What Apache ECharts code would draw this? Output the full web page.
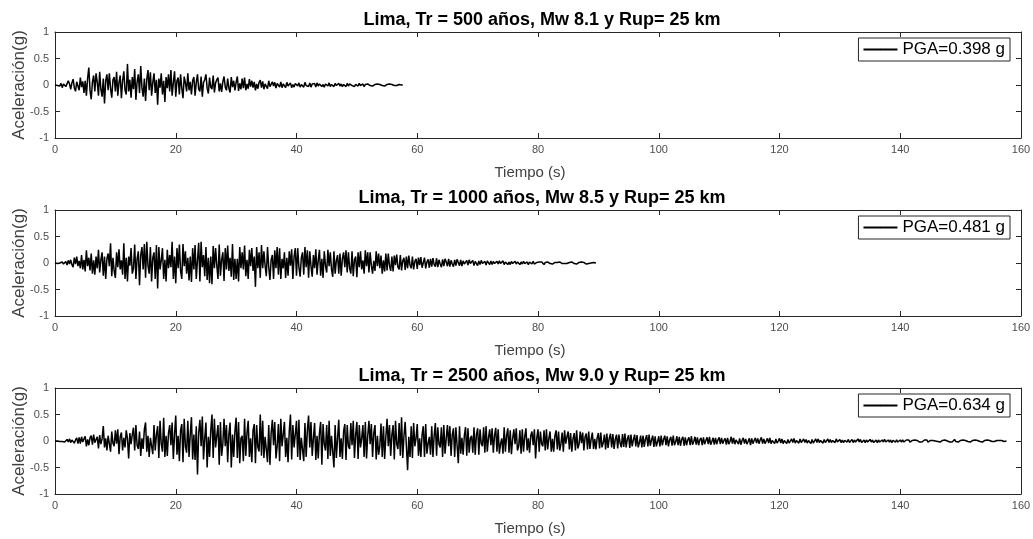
<!DOCTYPE html>
<html>
<head>
<meta charset="utf-8">
<title>Acelerogramas sintéticos - Lima</title>
<script src="https://cdn.jsdelivr.net/npm/echarts@6/dist/echarts.min.js"></script>
<style>
    html, body { margin: 0; padding: 0; background: #fff; }
    #chart { width: 1033px; height: 539px; }
</style>
</head>
<body>
<div id="chart"></div>
<script>
// paso de tiempo de los registros (s)
var dt = 0.2;

var titulos = [
    'Lima, Tr = 500 años, Mw 8.1 y Rup= 25 km',
    'Lima, Tr = 1000 años, Mw 8.5 y Rup= 25 km',
    'Lima, Tr = 2500 años, Mw 9.0 y Rup= 25 km'
];
var leyendas = ['PGA=0.398 g', 'PGA=0.481 g', 'PGA=0.634 g'];
var xTicks = [0, 160, 20];      // min, max, intervalo
var yTicks = [-1, 1, 0.5];

// aceleración (g), una fila = 1 s
var acc500 = [
    0, 0.01, -0.01, 0.01, -0.02,
    0.03, -0.05, 0.02, 0.05, -0.03,
    -0.06, 0.08, 0.02, -0.08, 0.04,
    0.11, -0.05, -0.12, 0.06, 0.03,
    -0.1, 0.14, -0.04, 0.07, -0.15,
    0.08, -0.2, 0.12, 0.33, -0.1,
    -0.27, 0.06, 0.18, -0.12, 0.22,
    0.05, -0.2, 0.25, -0.08, -0.22,
    0.12, -0.35, 0.08, 0.2, -0.1,
    0.22, -0.06, -0.24, 0.1, 0.15,
    -0.12, 0.25, -0.2, 0.05, 0.18,      // 10 s
    -0.25, 0.08, 0.26, -0.1, -0.18,
    0.398, -0.12, 0.1, -0.24, 0.15,
    -0.08, 0.3, -0.28, 0.06, 0.2,
    -0.15, 0.36, -0.05, -0.22, 0.12,
    -0.3, 0.1, 0.28, -0.1, 0.24,
    -0.2, 0.05, 0.22, -0.15, 0.1,
    -0.37, 0.12, -0.05, 0.22, -0.18,
    0.08, -0.32, 0.15, -0.06, 0.2,
    -0.12, 0.28, -0.2, 0.04, 0.26,
    -0.22, 0.08, 0.14, -0.18, 0.2,      // 20 s
    -0.06, -0.25, 0.16, 0.04, -0.12,
    0.22, -0.1, 0.06, -0.18, 0.08,
    0.15, -0.2, 0.05, 0.2, -0.08,
    -0.12, 0.16, -0.22, 0.05, 0.1,
    0.2, -0.06, -0.16, 0.14, -0.04,
    -0.08, 0.18, -0.14, 0.04, 0.1,
    0.14, -0.12, 0.03, -0.13, 0.06,
    0.16, -0.04, -0.1, 0.12, -0.06,
    -0.14, 0.15, -0.04, 0.08, -0.1,
    0.05, 0.16, -0.11, 0.03, -0.08,     // 30 s
    0.12, -0.06, 0.14, -0.1, 0.02,
    -0.07, 0.11, -0.03, 0.08, -0.05,
    0.06, -0.1, 0.02, -0.07, 0.05,
    0.09, -0.05, 0.07, -0.08, 0.02,
    0.04, -0.07, 0.08, -0.03, -0.05,
    0.06, -0.02, 0.05, -0.06, 0.03,
    0.05, -0.04, 0.06, -0.05, 0.02,
    0.03, -0.05, 0.05, -0.02, 0.01,
    0.04, -0.05, 0.01, -0.04, 0.03,
    0.05, -0.02, 0.04, -0.04, 0.01,     // 40 s
    0.03, -0.04, 0.05, -0.01, -0.03,
    -0.03, 0.04, -0.04, 0.02, 0.01,
    0.03, -0.04, 0.04, -0.02, 0.02,
    0.04, -0.03, 0.01, -0.04, 0.02,
    0.03, -0.02, 0.04, -0.03, 0.01,
    0.02, -0.03, 0.03, -0.01, -0.02,
    0.03, -0.02, 0.02, -0.03, 0.01,
    0.02, -0.03, 0.03, -0.02, 0.02,
    0.03, -0.01, 0.02, -0.03, 0.01,
    0.02, -0.02, 0.03, -0.01, -0.02,    // 50 s
    0.02, -0.03, 0.01, -0.02, 0.02,
    0.03, -0.01, 0.02, -0.02, 0.01,
    0.01, -0.02, 0.02, -0.01, 0.01,
    0.02, -0.01, 0.01, -0.02, 0.01,
    0.01, -0.02, 0.02, -0.01, 0.01,
    0.02, -0.01, 0.01, -0.01, 0.01,
    0.01, -0.01, 0, 0
];

var acc1000 = [
    0, 0.01, -0.01, 0.01, 0,
    -0.01, 0.02, -0.02, 0.01, 0.03,
    -0.04, 0.05, -0.02, 0.06, -0.03,
    -0.08, 0.1, -0.02, 0.12, -0.06,
    0.04, -0.1, 0.15, -0.12, 0.06,
    -0.16, 0.24, -0.06, 0.1, -0.14,
    0.18, -0.2, 0.05, -0.22, 0.12,
    -0.1, 0.25, -0.18, 0.06, 0.2,
    -0.24, 0.12, -0.3, 0.08, 0.18,
    -0.06, 0.37, -0.25, 0.1, -0.15,
    -0.28, 0.2, -0.08, 0.26, -0.12,     // 10 s
    0.05, -0.22, 0.37, -0.3, 0.1,
    -0.35, 0.12, -0.05, 0.28, -0.2,
    -0.1, 0.35, -0.3, 0.08, 0.22,
    -0.42, 0.15, 0.3, -0.12, 0.36,
    -0.28, 0.4, -0.05, -0.2, 0.3,
    -0.35, 0.1, 0.2, -0.3, 0.34,
    -0.481, 0.3, -0.12, 0.05, 0.28,
    -0.3, 0.06, -0.35, 0.25, -0.1,
    0.15, -0.08, 0.4, -0.3, 0.12,
    -0.38, 0.28, -0.1, 0.35, -0.15,     // 20 s
    -0.3, 0.36, -0.06, 0.22, -0.2,
    0.1, -0.33, 0.12, -0.36, 0.28,
    -0.12, 0.34, -0.3, 0.05, 0.38,
    -0.35, 0.4, -0.08, 0.15, -0.25,
    0.3, -0.32, 0.1, -0.38, 0.12,
    -0.4, 0.32, -0.1, 0.28, -0.05,
    -0.3, 0.35, -0.24, 0.06, 0.2,
    -0.34, 0.28, -0.12, 0.33, -0.15,
    0.1, -0.26, 0.36, -0.32, 0.08,
    -0.3, 0.08, -0.35, 0.3, -0.1,       // 30 s
    0.2, -0.12, 0.33, -0.25, 0.06,
    -0.3, 0.25, -0.06, 0.28, -0.15,
    0.12, -0.45, 0.3, -0.1, 0.2,
    -0.28, 0.34, -0.1, 0.22, -0.05,
    -0.25, 0.3, -0.08, -0.32, 0.06,
    0.15, -0.3, 0.24, -0.1, 0.3,
    -0.22, 0.28, -0.3, 0.08, -0.1,
    0.2, -0.28, 0.1, -0.24, 0.22,
    -0.05, 0.26, -0.3, 0.12, 0.28,
    -0.24, 0.28, -0.08, -0.26, 0.1,     // 40 s
    0.2, -0.22, 0.3, -0.08, 0.24,
    -0.28, 0.22, -0.06, -0.26, 0.15,
    -0.1, 0.26, -0.22, 0.05, 0.25,
    -0.24, 0.08, -0.28, 0.22, -0.05,
    -0.18, 0.25, -0.06, 0.2, -0.12,
    -0.26, 0.22, -0.2, 0.05, 0.15,
    -0.2, 0.18, -0.24, 0.08, 0.2,
    -0.08, 0.24, -0.18, 0.2, -0.1,
    -0.2, 0.22, -0.25, 0.06, 0.12,
    -0.27, 0.2, -0.08, 0.22, -0.12,     // 50 s
    0.05, -0.2, 0.24, -0.06, 0.2,
    -0.18, 0.2, -0.05, -0.2, 0.04,
    -0.15, 0.22, -0.06, 0.18, -0.1,
    0.14, -0.2, 0.05, -0.16, 0.18,
    -0.14, 0.18, -0.05, -0.15, 0.12,
    -0.16, 0.14, -0.04, 0.16, -0.08,
    -0.12, 0.15, -0.14, 0.04, 0.1,
    -0.13, 0.12, -0.1, 0.14, -0.04,
    -0.1, 0.12, -0.12, 0.03, 0.08,
    -0.11, 0.1, -0.04, 0.11, -0.09,     // 60 s
    -0.08, 0.1, -0.1, 0.02, 0.07,
    -0.09, 0.08, -0.07, 0.09, -0.03,
    -0.07, 0.09, -0.08, 0.06, -0.02,
    -0.08, 0.07, -0.06, 0.08, 0.02,
    -0.06, 0.08, -0.07, 0.05, -0.02,
    -0.07, 0.06, -0.05, 0.07, 0.01,
    -0.05, 0.06, -0.06, 0.04, -0.02,
    -0.05, 0.05, -0.04, 0.06, -0.01,
    -0.04, 0.05, -0.05, 0.03, 0.01,
    -0.05, 0.04, -0.03, 0.05, -0.01,    // 70 s
    -0.04, 0.03, -0.04, 0.04, 0.01,
    -0.03, 0.04, -0.03, 0.03, -0.01,
    -0.04, 0.03, -0.02, 0.04, -0.01,
    -0.03, 0.04, -0.03, 0.02, 0.01,
    -0.03, 0.02, -0.03, 0.03, -0.01,
    -0.02, 0.03, -0.02, 0.02, 0.01,
    -0.03, 0.02, -0.02, 0.03, -0.01,
    -0.02, 0.02, -0.03, 0.02, 0,
    -0.02, 0.03, -0.02, 0.01, 0.01,
    -0.02, 0.02, -0.01, 0.02, -0.01,    // 80 s
    -0.03, 0.01, -0.02, 0.02, 0,
    -0.01, 0.02, -0.02, 0.01, 0.01,
    -0.02, 0.01, -0.02, 0.02, 0,
    -0.01, 0.02, -0.01, 0.01, -0.01,
    -0.02, 0.01, -0.01, 0.02, 0,
    -0.01, 0.01, -0.02, 0.01, 0.01,
    -0.01, 0.02, -0.01, 0.01, 0,
    -0.02, 0.01, -0.01, 0.01, 0,
    -0.01, 0.01, 0, 0
];

var acc2500 = [
    0, 0, 0, 0.01, -0.01,
    0.01, -0.01, 0.02, -0.02, 0.01,
    0.03, -0.02, 0.04, -0.03, 0.02,
    0.05, -0.04, 0.02, 0.06, -0.05,
    0.07, -0.05, 0.08, -0.02, 0.04,
    0.09, -0.1, 0.03, -0.08, 0.06,
    0.1, -0.07, 0.12, -0.03, -0.06,
    0.08, -0.14, 0.11, -0.06, 0.04,
    0.28, -0.12, 0.05, -0.18, 0.1,
    0.12, -0.2, 0.18, -0.04, -0.1,
    0.2, -0.05, 0.22, -0.25, 0.08,      // 10 s
    0.16, -0.18, 0.06, -0.12, 0.2,
    0.05, -0.33, 0.15, -0.06, 0.12,
    0.25, -0.18, 0.3, -0.08, -0.15,
    0.18, -0.28, 0.05, -0.15, 0.22,
    0.35, -0.2, 0.1, -0.3, 0.06,
    0.08, -0.25, 0.3, -0.18, 0.12,
    0.28, -0.32, 0.38, -0.06, -0.2,
    0.44, -0.3, 0.1, -0.28, 0.15,
    0.3, -0.08, 0.35, -0.34, 0.12,
    0.48, -0.26, 0.1, -0.38, 0.2,       // 20 s
    0.32, -0.4, 0.42, -0.1, -0.22,
    0.38, -0.3, 0.12, 0.45, -0.35,
    0.12, -0.36, 0.28, -0.634, 0.15,
    0.4, -0.1, 0.46, -0.35, 0.05,
    0.35, -0.5, 0.08, -0.3, 0.2,
    0.5, -0.32, 0.42, -0.12, 0.1,
    0.3, -0.45, 0.36, -0.28, -0.05,
    0.42, -0.1, 0.3, -0.4, 0.12,
    0.35, -0.5, 0.12, -0.3, 0.18,
    0.44, -0.32, 0.36, -0.42, 0.05,     // 30 s
    0.1, -0.38, 0.42, -0.28, 0.15,
    0.38, -0.3, 0.05, -0.4, 0.2,
    0.32, -0.42, 0.3, -0.12, -0.2,
    0.5, -0.28, 0.38, -0.32, 0.08,
    0.1, -0.4, 0.3, -0.45, 0.15,
    0.4, -0.08, 0.36, -0.33, -0.1,
    0.32, -0.38, 0.42, -0.1, 0.12,
    0.36, -0.3, 0.06, -0.4, 0.18,
    0.5, -0.35, 0.3, -0.12, -0.15,
    0.38, -0.3, 0.4, -0.36, 0.06,       // 40 s
    0.08, -0.38, 0.34, -0.3, 0.2,
    0.48, -0.12, 0.36, -0.28, 0.05,
    0.34, -0.36, 0.1, -0.33, 0.15,
    0.36, -0.45, 0.32, -0.06, -0.18,
    0.3, -0.34, 0.38, -0.28, 0.1,
    0.12, -0.5, 0.3, -0.32, 0.05,
    0.4, -0.3, 0.05, -0.34, 0.18,
    0.32, -0.36, 0.3, -0.1, -0.15,
    0.34, -0.08, 0.38, -0.32, 0.12,
    0.36, -0.34, 0.3, -0.12, 0.05,      // 50 s
    0.3, -0.3, 0.36, -0.33, 0.1,
    0.38, -0.06, 0.32, -0.3, 0.15,
    0.3, -0.35, 0.1, -0.26, -0.1,
    0.33, -0.3, 0.28, -0.34, 0.08,
    0.42, -0.1, 0.3, -0.28, 0.12,
    0.3, -0.35, 0.38, -0.06, -0.15,
    0.34, -0.28, 0.45, -0.32, 0.1,
    0.36, -0.1, -0.55, 0.08, -0.3,
    0.28, -0.32, 0.34, -0.1, 0.05,
    0.32, -0.28, 0.05, -0.3, 0.12,      // 60 s
    0.28, -0.3, 0.32, -0.24, -0.05,
    0.08, -0.26, 0.28, -0.3, 0.1,
    0.34, -0.28, 0.26, -0.06, -0.12,
    0.26, -0.3, 0.3, -0.24, 0.05,
    0.3, -0.1, 0.28, -0.28, 0.12,
    0.24, -0.3, 0.26, -0.08, -0.42,
    0.28, -0.24, 0.06, -0.26, 0.1,
    0.26, -0.28, 0.24, -0.22, 0.05,
    0.1, -0.22, 0.26, -0.26, 0.12,
    0.24, -0.26, 0.22, -0.05, -0.1,     // 70 s
    0.26, -0.22, 0.28, -0.2, 0.06,
    0.22, -0.08, 0.24, -0.22, 0.1,
    0.25, -0.2, 0.22, -0.24, -0.05,
    0.05, -0.24, 0.26, -0.2, 0.1,
    0.24, -0.22, 0.2, -0.25, 0.04,
    0.22, -0.06, 0.24, -0.18, -0.1,
    0.2, -0.24, 0.22, -0.2, 0.08,
    0.24, -0.18, 0.05, -0.22, 0.1,
    0.18, -0.08, 0.22, -0.33, 0.06,
    0.22, -0.2, 0.18, -0.06, -0.1,      // 80 s
    0.2, -0.18, 0.22, -0.16, 0.05,
    0.18, -0.2, 0.04, -0.2, 0.1,
    0.2, -0.16, 0.18, -0.18, -0.05,
    0.16, -0.2, 0.2, -0.05, 0.08,
    0.18, -0.16, 0.15, -0.2, 0.04,
    0.15, -0.18, 0.2, -0.14, -0.06,
    0.18, -0.04, 0.16, -0.18, 0.08,
    0.14, -0.16, 0.18, -0.15, 0.03,
    0.16, -0.15, 0.04, -0.16, 0.06,
    0.15, -0.14, 0.16, -0.12, -0.04,    // 90 s
    0.12, -0.16, 0.14, -0.13, 0.05,
    0.14, -0.12, 0.13, -0.15, 0.03,
    0.12, -0.14, 0.12, -0.04, -0.12,
    0.13, -0.11, 0.14, -0.12, 0.04,
    0.11, -0.13, 0.12, -0.1, 0.02,
    0.12, -0.1, 0.11, -0.12, -0.03,
    0.1, -0.12, 0.1, -0.11, 0.04,
    0.11, -0.1, 0.12, -0.09, 0.02,
    0.1, -0.11, 0.09, -0.1, -0.02,
    0.09, -0.1, 0.1, -0.08, 0.03,       // 100 s
    0.1, -0.08, 0.09, -0.1, 0.02,
    0.08, -0.09, 0.1, -0.08, -0.02,
    0.09, -0.08, 0.08, -0.09, 0.03,
    0.08, -0.09, 0.07, -0.08, 0.02,
    0.07, -0.08, 0.09, -0.07, -0.01,
    0.08, -0.07, 0.07, -0.08, 0.02,
    0.06, -0.08, 0.07, -0.06, 0.01,
    0.07, -0.06, 0.08, -0.07, -0.01,
    0.06, -0.07, 0.06, -0.06, 0.02,
    0.07, -0.06, 0.06, -0.05, 0.01,     // 110 s
    0.05, -0.07, 0.06, -0.06, -0.01,
    0.08, -0.05, 0.06, -0.06, 0.02,
    0.05, -0.06, 0.05, -0.07, 0.01,
    0.06, -0.05, 0.04, -0.06, -0.01,
    0.05, -0.08, 0.05, -0.05, 0.01,
    0.06, -0.04, 0.05, -0.05, 0.02,
    0.07, -0.05, 0.04, -0.05, 0,
    0.05, -0.04, 0.06, -0.05, 0.01,
    0.04, -0.05, 0.04, -0.04, 0,
    0.05, -0.04, 0.04, -0.05, 0.01,     // 120 s
    0.04, -0.05, 0.03, -0.04, 0,
    0.04, -0.03, 0.05, -0.04, 0.01,
    0.03, -0.04, 0.04, -0.03, 0,
    0.04, -0.03, 0.03, -0.04, 0.01,
    0.03, -0.05, 0.03, -0.04, 0,
    0.04, -0.03, 0.04, -0.03, 0.01,
    0.03, -0.04, 0.03, -0.03, 0,
    0.04, -0.03, 0.03, -0.03, 0.01,
    0.03, -0.03, 0.04, -0.02, 0,
    0.03, -0.03, 0.02, -0.03, 0.01,     // 130 s
    0.04, -0.02, 0.03, -0.03, 0,
    0.03, -0.03, 0.02, -0.02, 0.01,
    0.04, -0.02, 0.03, -0.03, 0,
    0.02, -0.03, 0.02, -0.02, 0.01,
    0.03, -0.02, 0.02, -0.03, 0,
    0.02, -0.03, 0.02, -0.02, 0.01,
    0.02, -0.02, 0.03, -0.02, 0,
    0.02, -0.02, 0.02, -0.03, 0.01,
    0.02, -0.02, 0.02, -0.02, 0,
    0.02, -0.02, 0.02, -0.02, 0.01,     // 140 s
    0.02, -0.01, 0.02, -0.02, 0,
    0.01, -0.02, 0.02, -0.01, 0.01,
    0.02, -0.02, 0.01, -0.02, 0,
    0.02, -0.01, 0.02, -0.02, 0.01,
    0.01, -0.02, 0.01, -0.01, 0,
    0.02, -0.01, 0.02, -0.02, 0.01,
    0.01, -0.02, 0.02, -0.01, 0,
    0.02, -0.02, 0.01, -0.02, 0.01,
    0.03, -0.01, 0.02, -0.02, 0,
    0.01, -0.02, 0.02, -0.01, 0.01,     // 150 s
    0.02, -0.01, 0.01, -0.02, 0,
    0.01, -0.02, 0.02, -0.01, 0.01,
    0.02, -0.01, 0.01, -0.02, 0,
    0.01, -0.01, 0.02, -0.01, 0.01,
    0.02, -0.01, 0.01, -0.01, 0,
    0.01, -0.02, 0.01, -0.01, 0.01,
    0.01, -0.01, 0, 0
];

var registros = [acc500, acc1000, acc2500];

// pares [t, a] para el eje de valores
function pares(arr) {
    var out = [];
    for (var i = 0; i < arr.length; i++) {
        out.push([i * dt, arr[i]]);
    }
    return out;
}

var colorEje = '#262626';
var colorTexto = '#4d4d4d';
var grids = [32, 210, 388];   // top de cada subplot
var altoGrid = 106;

var grid = [], xAxis = [], yAxis = [], title = [], legend = [], series = [];

for (var k = 0; k < 3; k++) {
    grid.push({ left: 55, right: 12, top: grids[k], height: altoGrid, outerBoundsMode: 'none' });

    title.push({
        text: titulos[k],
        left: 537,
        textAlign: 'center',
        top: grids[k] - 26,
        textStyle: { fontFamily: 'Liberation Sans', fontSize: 18, fontWeight: 'bold', color: '#000' }
    });

    // eje inferior con etiquetas y eje superior (caja tipo matlab)
    xAxis.push({
        gridIndex: k, type: 'value', position: 'bottom',
        min: xTicks[0], max: xTicks[1], interval: xTicks[2],
        name: 'Tiempo (s)', nameLocation: 'middle', nameGap: 27,
        nameTextStyle: { fontFamily: 'Liberation Sans', fontSize: 15, color: '#404040', padding: [0, 16, 0, 0] },
        axisLine: { onZero: false, lineStyle: { color: colorEje } },
        axisTick: { inside: true, length: 5, lineStyle: { color: colorEje } },
        axisLabel: { fontFamily: 'Liberation Sans', fontSize: 11, color: colorTexto, margin: 6 },
        splitLine: { show: false }
    });
    xAxis.push({
        gridIndex: k, type: 'value', position: 'top',
        min: xTicks[0], max: xTicks[1], interval: xTicks[2],
        axisLine: { onZero: false, lineStyle: { color: colorEje } },
        axisTick: { inside: true, length: 5, lineStyle: { color: colorEje } },
        axisLabel: { show: false },
        splitLine: { show: false }
    });

    yAxis.push({
        gridIndex: k, type: 'value', position: 'left',
        min: yTicks[0], max: yTicks[1], interval: yTicks[2],
        name: 'Aceleración(g)', nameLocation: 'middle', nameGap: 27,
        nameMoveOverlap: false,
        nameTextStyle: { fontFamily: 'Liberation Sans', fontSize: 17, color: '#404040' },
        axisLine: { show: true, onZero: false, lineStyle: { color: colorEje } },
        axisTick: { show: true, inside: true, length: 5, lineStyle: { color: colorEje } },
        axisLabel: { fontFamily: 'Liberation Sans', fontSize: 11, color: colorTexto, margin: 6 },
        splitLine: { show: false }
    });
    yAxis.push({
        gridIndex: k, type: 'value', position: 'right',
        min: yTicks[0], max: yTicks[1], interval: yTicks[2],
        axisLine: { show: true, onZero: false, lineStyle: { color: colorEje } },
        axisTick: { show: true, inside: true, length: 5, lineStyle: { color: colorEje } },
        axisLabel: { show: false },
        splitLine: { show: false }
    });

    legend.push({
        data: [leyendas[k]],
        right: 23,
        top: grids[k] + 6,
        orient: 'horizontal',
        backgroundColor: '#fff',
        borderColor: colorEje,
        borderWidth: 1,
        borderRadius: 0,
        padding: [3, 5, 3, 4],
        itemWidth: 34,
        itemHeight: 2,
        itemGap: 4,
        textStyle: { fontFamily: 'Liberation Sans', fontSize: 17, color: '#000' },
        selectedMode: false
    });

    series.push({
        name: leyendas[k],
        type: 'line',
        xAxisIndex: 2 * k,
        yAxisIndex: 2 * k,
        data: pares(registros[k]),
        showSymbol: false,
        symbol: 'none',
        lineStyle: { color: '#000', width: 1.5 },
        itemStyle: { color: '#000' }
    });
}

var chart = echarts.init(document.getElementById('chart'));
chart.setOption({
    animation: false,
    backgroundColor: '#fff',
    title: title,
    grid: grid,
    xAxis: xAxis,
    yAxis: yAxis,
    legend: legend,
    series: series
});
</script>
</body>
</html>
